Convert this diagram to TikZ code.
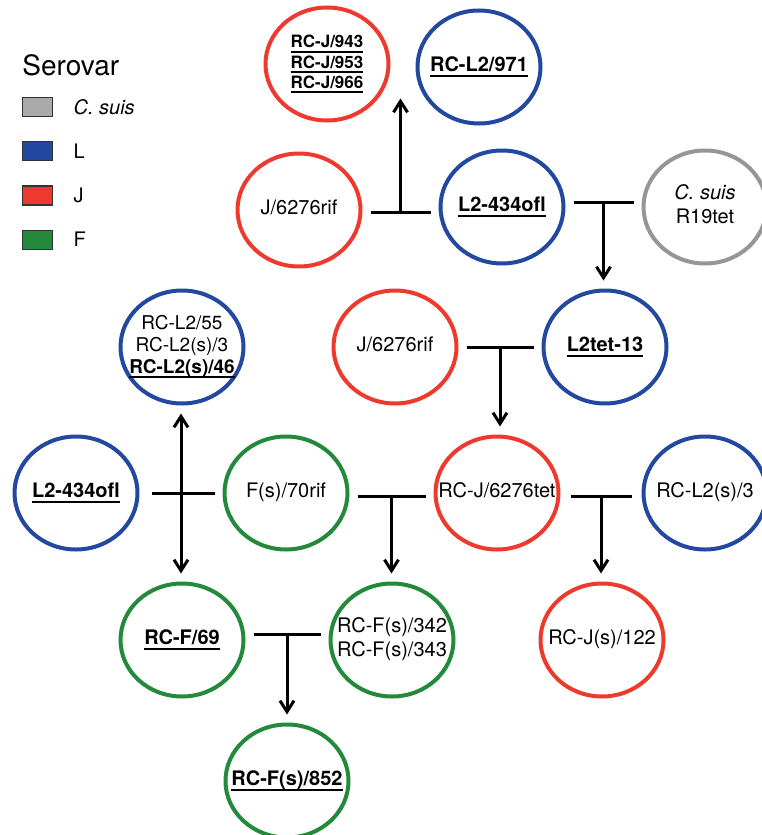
\documentclass[tikz,border=0pt]{standalone}
\usepackage{fontspec}
\setmainfont{TeX Gyre Heros}
\usetikzlibrary{positioning,calc,shapes,arrows.meta}
\definecolor{cred}{RGB}{238,58,46}
\definecolor{cblue}{RGB}{35,72,160}
\definecolor{cgreen}{RGB}{35,138,59}
\definecolor{cgray}{RGB}{150,150,150}
\definecolor{kgray}{RGB}{170,170,170}
\newcommand{\bu}[1]{{\bfseries\setbox0=\hbox{#1}\rlap{\rule[-2.4pt]{\wd0}{0.9pt}}\box0}}
\newcommand{\strain}[1]{\makebox[0pt]{\begin{tabular}{@{}c@{}}#1\end{tabular}}}

\begin{document}
\begin{tikzpicture}[x=0.5pt, y=-0.5pt,
	cell/.style={ellipse, draw=#1, line width=2pt, minimum width=61.5pt, minimum height=56.5pt, inner sep=0pt, font=\fontsize{10}{12}\selectfont},
	bar/.style={line width=1.5pt, shorten <=4pt, shorten >=4pt},
	arr/.style={line width=1.5pt, shorten >=4pt, -{Straight Barb[length=5.5pt,width=7pt]}},
	key/.style={draw=black!80, line width=0.6pt, minimum width=15pt, minimum height=9.5pt, inner sep=0pt}]
	\useasboundingbox (0,0) rectangle (761,835);
	% legend
	\node [anchor=base west, inner sep=0pt, font=\fontsize{14}{16}\selectfont] (serovar) at (22,75) {Serovar};
	\node [key, fill=kgray, anchor=north west] (kc) at (22,97) {};
	\node [key, fill=cblue, below=12pt of kc] (kl) {};
	\node [key, fill=cred, below=12pt of kl] (kj) {};
	\node [key, fill=cgreen, below=12pt of kj] (kf) {};
	\node [right=10pt of kc, inner sep=0pt] (lc) {\textit{C. suis}};
	\node [right=10pt of kl, inner sep=0pt] (ll) {L};
	\node [right=10pt of kj, inner sep=0pt] (lj) {J};
	\node [right=10pt of kf, inner sep=0pt] (lf) {F};
	% strains
	\node [cell=cred, font=\fontsize{8.5}{10}\selectfont] (rcj9) at (327,64) {\strain{\bu{RC-J/943}\\ \bu{RC-J/953}\\ \bu{RC-J/966}}};
	\node [cell=cblue] (rcl971) at (479,67) {\strain{\bu{RC-L2/971}}};
	\node [cell=cred] (jrif1) at (299,210) {\strain{J/6276rif}};
	\node [cell=cblue] (lofl1) at (502,207) {\strain{\bu{L2-434ofl}}};
	\node [cell=cgray] (csuis) at (705,207) {\strain{\textit{C. suis}\\ R19tet}};
	\node [cell=cblue, font=\fontsize{9.5}{11}\selectfont] (rcl55) at (182,347) {\strain{RC-L2/55\\ RC-L2(s)/3\\ \bu{RC-L2(s)/46}}};
	\node [cell=cred] (jrif2) at (395,347) {\strain{J/6276rif}};
	\node [cell=cblue] (ltet) at (605,347) {\strain{\bu{L2tet-13}}};
	\node [cell=cblue] (lofl2) at (76,493) {\strain{\bu{L2-434ofl}}};
	\node [cell=cgreen] (frif) at (286,493) {\strain{F(s)/70rif}};
	\node [cell=cred] (rcjtet) at (497,493) {\strain{RC-J/6276tet}};
	\node [cell=cblue] (rcls3) at (705,493) {\strain{RC-L2(s)/3}};
	\node [cell=cgreen] (rcf69) at (182,640) {\strain{\bu{RC-F/69}}};
	\node [cell=cgreen] (rcf342) at (392,640) {\strain{RC-F(s)/342\\ RC-F(s)/343}};
	\node [cell=cred] (rcj122) at (602,640) {\strain{RC-J(s)/122}};
	\node [cell=cgreen] (rcf852) at (287,781) {\strain{\bu{RC-F(s)/852}}};
	% crosses
	\path ([yshift=-1pt]jrif1.east) -- ([yshift=-1pt]jrif1.east -| lofl1.west) coordinate [pos=0.5] (m1);
	\coordinate (t1) at ($(m1 |- rcj9.south)+(0,16pt)$);
	\draw [bar] (m1 -| jrif1.east) -- (m1 -| lofl1.west);
	\draw [arr] (m1) -- (t1);

	\path ([yshift=2.5pt]lofl1.east) -- ([yshift=2.5pt]lofl1.east -| csuis.west) coordinate [pos=0.5] (m2);
	\draw [bar] (m2 -| lofl1.east) -- (m2 -| csuis.west);
	\draw [arr] (m2) -- (m2 |- ltet.north);

	\path (jrif2.east) -- (jrif2.east -| ltet.west) coordinate [pos=0.5] (m3);
	\draw [bar] (jrif2.east) -- (m3 -| ltet.west);
	\draw [arr] (m3) -- (m3 |- rcjtet.north);

	\path (lofl2.east) -- (lofl2.east -| frif.west) coordinate [pos=0.5] (m4);
	\draw [bar, shorten <=6pt] (lofl2.east) -- (m4 -| frif.west);
	\draw [arr] (m4) -- (m4 |- rcl55.south);
	\draw [arr] (m4) -- (m4 |- rcf69.north);

	\path ([yshift=-1.5pt]frif.east) -- ([yshift=-1.5pt]frif.east -| rcjtet.west) coordinate [pos=0.5] (m5);
	\draw [bar] (m5 -| frif.east) -- (m5 -| rcjtet.west);
	\draw [arr] (m5) -- (m5 |- rcf342.north);

	\path ([yshift=-1.5pt]rcjtet.east) -- ([yshift=-1.5pt]rcjtet.east -| rcls3.west) coordinate [pos=0.5] (m6);
	\draw [bar, shorten <=5pt, shorten >=5pt] (m6 -| rcjtet.east) -- (m6 -| rcls3.west);
	\draw [arr] (m6) -- (m6 |- rcj122.north);

	\path ([yshift=3pt]rcf69.east) -- ([yshift=3pt]rcf69.east -| rcf342.west) coordinate [pos=0.5] (m7);
	\draw [bar] (m7 -| rcf69.east) -- (m7 -| rcf342.west);
	\draw [arr] (m7) -- (m7 |- rcf852.north);
\end{tikzpicture}
\end{document}
